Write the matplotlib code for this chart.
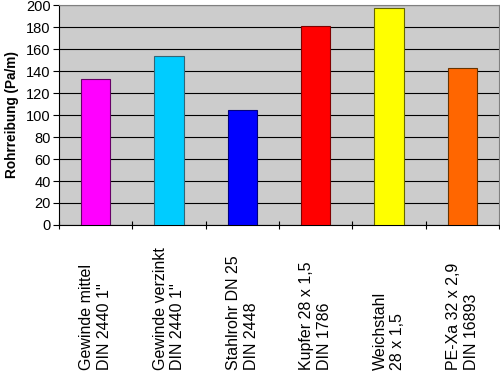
import matplotlib
matplotlib.use("Agg")
import matplotlib.pyplot as plt
import matplotlib.transforms as mtransforms
import numpy as np

plt.rcParams['font.family'] = ['Liberation Sans', 'DejaVu Sans']

# data
labels = ["Gewinde mittel\nDIN 2440 1''", "Gewinde verzinkt\nDIN 2440 1''",
          "Stahlrohr DN 25\nDIN 2448", "Kupfer 28 x 1,5\nDIN 1786",
          "Weichstahl\n28 x 1,5", "PE-Xa 32 x 2,9\nDIN 16893"]
values = [133, 154, 105, 181, 197, 143]
colors = ['#FF00FF', '#00CCFF', '#0000FF', '#FF0000', '#FFFF00', '#FF6600']
edges = ['#660066', '#336677', '#000080', '#800000', '#666600', '#663300']
yticks = list(range(0, 201, 20))

fig = plt.figure(figsize=(5.0, 3.74), dpi=100)
ax = fig.add_axes([0.118, 0.3984, 0.88, 0.5882])
ax.set_facecolor('#CCCCCC')

x = np.arange(len(values))
ax.bar(x, values, width=0.4, color=colors, edgecolor=edges, linewidth=0.8, zorder=3)

ax.set_xlim(-0.5, len(values) - 0.5)
ax.set_ylim(0, 200)
ax.set_yticks(yticks)
ax.yaxis.grid(True, color='black', linewidth=0.8, zorder=1)
ax.set_axisbelow(True)

# ticks between the categories, labels drawn as rotated text
ax.set_xticks(np.arange(-0.5, len(values), 1.0))
ax.set_xticklabels([])
ax.tick_params(axis='x', direction='inout', length=6, width=0.8, color='black')
ax.tick_params(axis='y', direction='out', length=4, width=0.8, color='black',
               labelsize=10.5, pad=2)

for side in ['top', 'right']:
    ax.spines[side].set_color('#808080')
    ax.spines[side].set_linewidth(0.8)
for side in ['left', 'bottom']:
    ax.spines[side].set_color('black')
    ax.spines[side].set_linewidth(0.8)

trans = mtransforms.blended_transform_factory(ax.transData, fig.transFigure)
for xi, lab in zip(x, labels):
    ax.text(xi, 0.011, lab, transform=trans, rotation=90, ha='center', va='bottom',
            multialignment='left', fontsize=11.5, linespacing=1.2)

ax.set_ylabel('Rohrreibung (Pa/m)', fontsize=9.8, fontweight='bold', labelpad=5)

fig.savefig('out.png', dpi=100)
